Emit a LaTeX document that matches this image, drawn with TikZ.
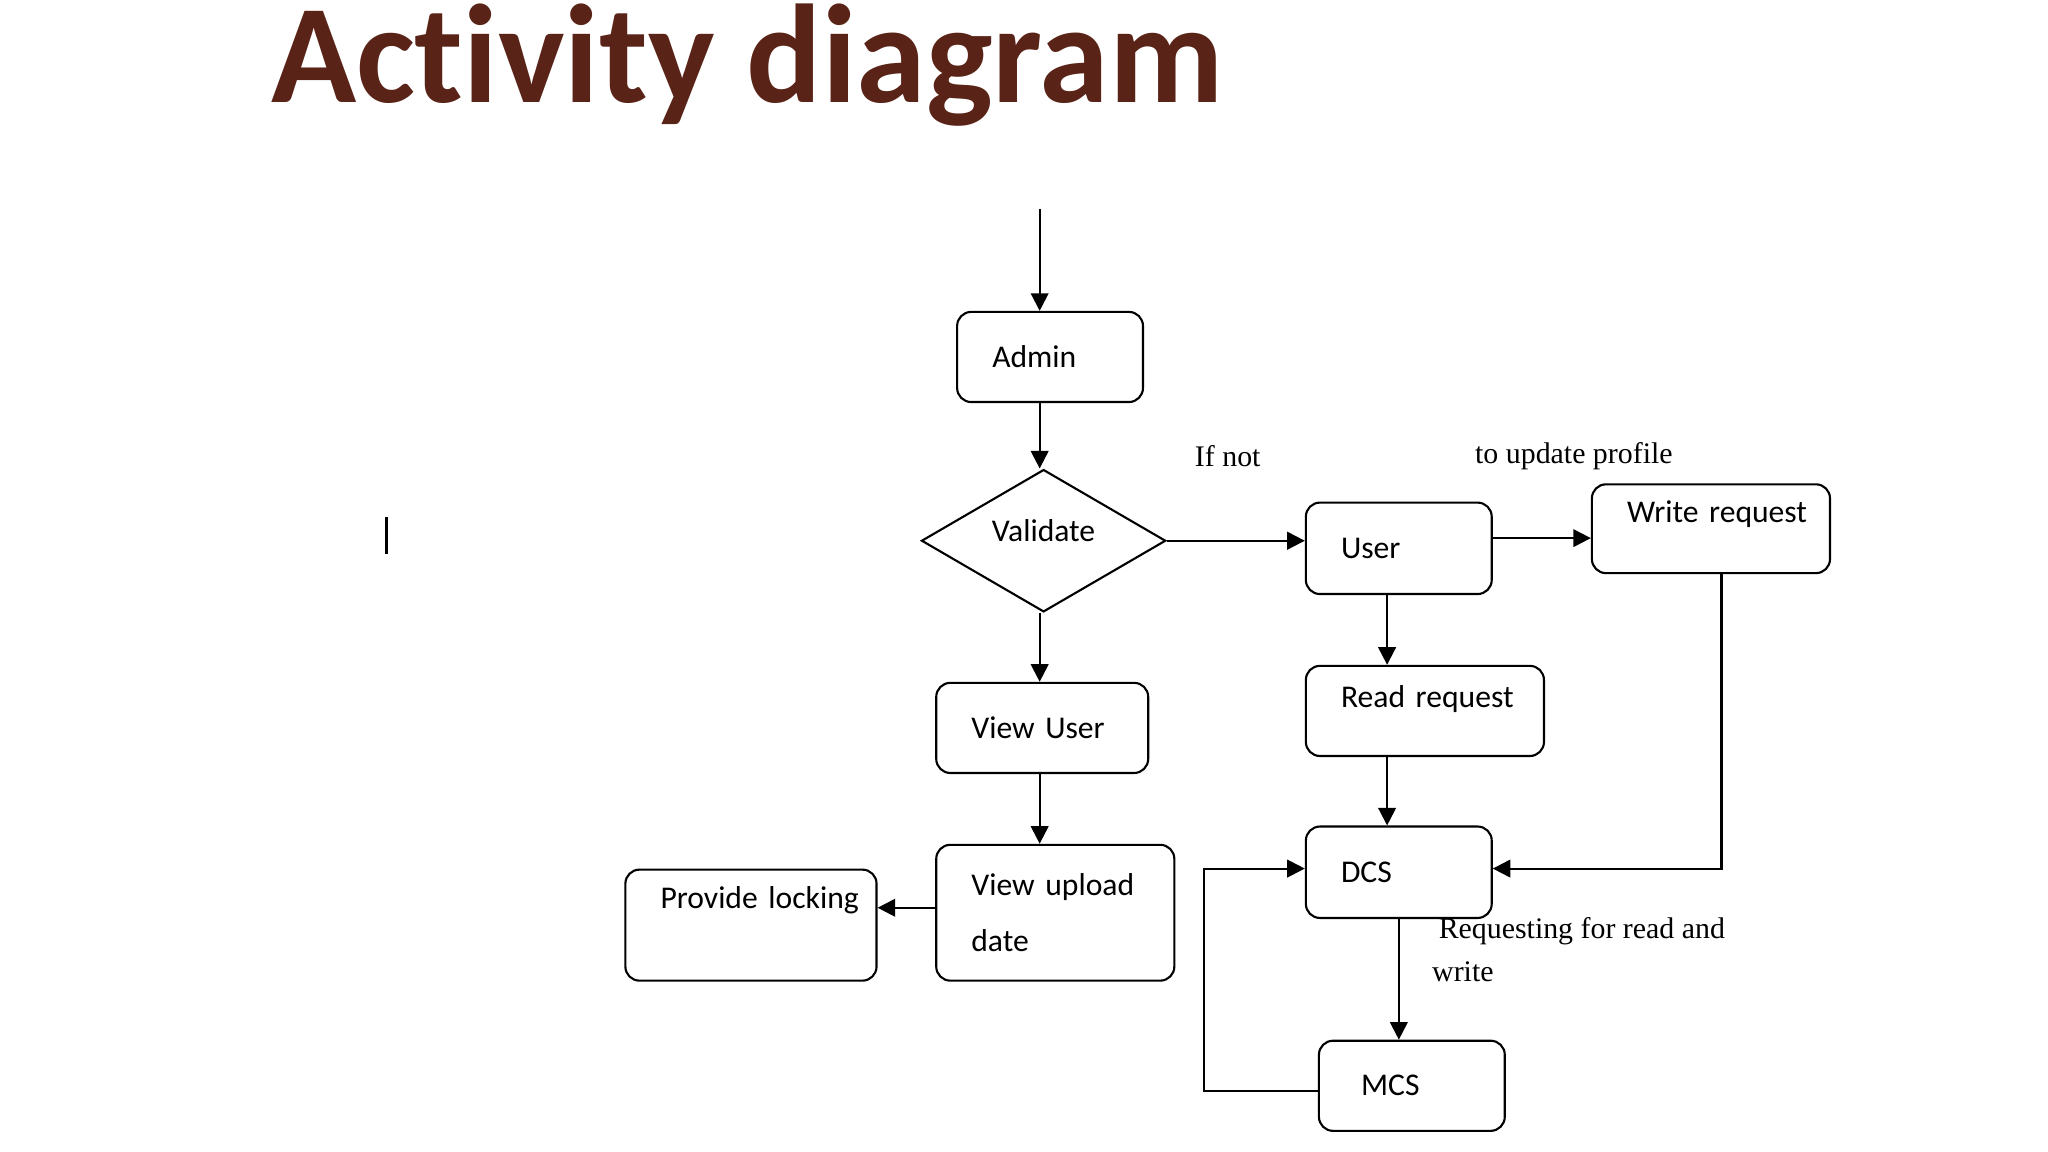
\documentclass[tikz,border=0pt]{standalone}
\usepackage{fontspec}
\setmainfont{Carlito}
\newfontfamily\serifa{Liberation Serif}
\newfontfamily\titlefont[Ligatures=NoCommon]{Carlito}
\usetikzlibrary{arrows.meta}
\usetikzlibrary{shapes.geometric}
\definecolor{titlebrown}{HTML}{5A2317}
\begin{document}
\begin{tikzpicture}[x=0.01306cm,y=-0.01306cm,>={Triangle[length=5pt,width=5pt]},
    every node/.style={font=\fontsize{9}{11}\selectfont},
    line/.style={line width=0.6pt},
    box/.style={draw,rounded corners=4pt,line width=0.6pt,align=left,anchor=north west,inner xsep=6pt,inner ysep=0pt},
    note/.style={font=\serifa\fontsize{8.5}{10}\selectfont,inner sep=0pt}]
    \useasboundingbox (0,0) rectangle (1568,882);
    % title
    \node[anchor=west,text=titlebrown,font=\titlefont\bfseries\fontsize{40}{44}\selectfont] (title) at (198,50) {Activity diagram};
    \draw[line width=0.8pt] (296,396) -- (296,424);
    % boxes
    \node[box,minimum width=138*0.01306cm,minimum height=69*0.01306cm,text width=110*0.01306cm] (admin) at (732,238) {\hspace{4pt}Admin};
    \node[draw,diamond,aspect=1.75,minimum width=187*0.01306cm,minimum height=109*0.01306cm,inner sep=0pt,line width=0.6pt] (validate) at (799,414) {\raisebox{6pt}{Validate}};
    \node[box,minimum width=154*0.01306cm,minimum height=69*0.01306cm,text width=130*0.01306cm] (viewuser) at (716,522) {\hspace{4pt}View User};
    \node[box,minimum width=172*0.01306cm,minimum height=104*0.01306cm,text width=150*0.01306cm] (upload) at (716,646) {\hspace{4pt}View upload\\[5pt]\hspace{4pt}date};
    \node[box,minimum width=184*0.01306cm,minimum height=85*0.01306cm,text width=160*0.01306cm] (locking) at (478,665) {\raisebox{16pt}{\hspace{4pt}Provide locking}};
    \node[box,minimum width=138*0.01306cm,minimum height=70*0.01306cm,text width=110*0.01306cm] (user) at (999,384) {\hspace{4pt}User};
    \node[box,minimum width=175*0.01306cm,minimum height=68*0.01306cm,text width=150*0.01306cm] (write) at (1218,370) {\raisebox{10pt}{\hspace{4pt}Write request}};
    \node[box,minimum width=175*0.01306cm,minimum height=69*0.01306cm,text width=150*0.01306cm] (read) at (999,509) {\raisebox{8pt}{\hspace{4pt}Read request}};
    \node[box,minimum width=138*0.01306cm,minimum height=70*0.01306cm,text width=110*0.01306cm] (dcs) at (999,632) {\hspace{4pt}DCS};
    \node[box,minimum width=138*0.01306cm,minimum height=69*0.01306cm,text width=110*0.01306cm] (mcs) at (1009,796) {\hspace{6pt}MCS};
    % labels
    \node[note] (ifnot) at (940,349) {If not};
    \node[note] (upd) at (1205,349) {to update profile};
    \node[note,anchor=west] (req1) at (1101,713) {Requesting for read and};
    \node[note,anchor=west] (req2) at (1096,744) {write};
    % connectors
    \coordinate (start) at (796,160);
    \draw[line,->] (start) -- (start |- admin.north);
    \draw[line,->] (admin.south -| start) -- (validate.north -| start);
    \draw[line,->] (validate.south -| start) -- (viewuser.north -| start);
    \draw[line,->] (viewuser.south -| start) -- (upload.north -| start);
    \draw[line,->] (upload.west |- 0,695) -- (locking.east |- 0,695);
    \draw[line,->] (validate.east) -- (user.west |- validate.east);
    \draw[line,->] (user.east |- 0,412) -- (write.west |- 0,412);
    \draw[line,->] (user.south -| 1062,0) -- (read.north -| 1062,0);
    \draw[line,->] (read.south -| 1062,0) -- (dcs.north -| 1062,0);
    \draw[line,->] (write.south -| 1318,0) |- (dcs.east |- 0,665);
    \draw[line,->] (dcs.south -| 1071,0) -- (mcs.north -| 1071,0);
    \draw[line,->] (mcs.west |- 0,835) -| (922,665) -- (dcs.west |- 0,665);
\end{tikzpicture}
\end{document}
